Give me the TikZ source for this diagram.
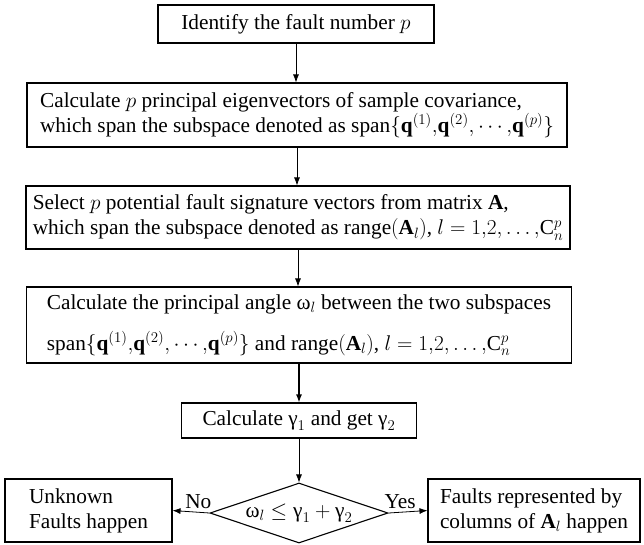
\documentclass[tikz,border=0pt]{standalone}
\usepackage{fix-cm}
\usepackage{amsmath,amssymb}
\usepackage{fontspec}
\setmainfont{Liberation Serif}
\usepackage{tikz}
\usetikzlibrary{arrows.meta,shapes.geometric}
\newcommand{\upgr}[1]{\textrm{#1}}
\tikzset{
  fltbox/.style={draw=black,line width=1.1pt,inner sep=0pt,align=left},
  fltdecision/.style={diamond,draw=black,line width=1.1pt,inner sep=0pt,aspect=2.97,
    minimum width=178pt,minimum height=60pt},
  fltarrow/.style={-{Latex[length=8pt,width=6pt]},line width=0.8pt},
  every picture/.style={font=\fontsize{21.3}{25}\selectfont}
}

\begin{document}
\begin{tikzpicture}[x=1pt,y=-1pt]
  \useasboundingbox (0,0) rectangle (644,544);
  \node[fltbox,minimum width=276pt,minimum height=38pt] (ident) at (296,24)
    {Identify the fault number $p$};
  \node[fltbox,minimum width=540pt,minimum height=64pt] (eigen) at (297,115)
    {Calculate $p$ principal eigenvectors of sample covariance,\\
     which span the subspace denoted as $\mathrm{span}\{\mathbf{q}^{(1)}{,}\mathbf{q}^{(2)}{,}\cdots{,}\mathbf{q}^{(p)}\}$};
  \node[fltbox,minimum width=544pt,minimum height=63pt] (select) at (298,217.5)
    {Select $p$ potential fault signature vectors from matrix $\mathbf{A}$,\\
     which span the subspace denoted as $\mathrm{range}(\mathbf{A}_l)$, $l=1{,}2{,}\ldots{,}\mathrm{C}_n^p$};
  \node[fltbox,minimum width=545pt,minimum height=76pt] (angle) at (299,325)
    {Calculate the principal angle $\upgr{ω}_l$ between the two subspaces\\[16pt]
     $\mathrm{span}\{\mathbf{q}^{(1)}{,}\mathbf{q}^{(2)}{,}\cdots{,}\mathbf{q}^{(p)}\}$ and $\mathrm{range}(\mathbf{A}_l)$, $l=1{,}2{,}\ldots{,}\mathrm{C}_n^p$};
  \node[fltbox,minimum width=235pt,minimum height=35pt] (gamma) at (299,420.5)
    {Calculate $\upgr{γ}_1$ and get $\upgr{γ}_2$};
  \node[fltdecision] (test) at (299,513) {$\upgr{ω}_l\le\upgr{γ}_1+\upgr{γ}_2$};
  \node[fltbox,minimum width=167pt,minimum height=63pt] (unknown) at (88.5,510.5)
    {Unknown\\Faults happen};
  \node[fltbox,minimum width=212pt,minimum height=63pt] (known) at (534,510.5)
    {Faults represented by\\columns of $\mathbf{A}_l$ happen};

  \draw[fltarrow] (ident) -- (ident |- eigen.north);
  \draw[fltarrow] (eigen) -- (eigen |- select.north);
  \draw[fltarrow] (select) -- (select |- angle.north);
  \draw[fltarrow,line width=1.3pt] (angle) -- (angle |- gamma.north);
  \draw[fltarrow] (gamma) -- (test.north);
  \draw[fltarrow] (test.west) -- node[above,pos=0.3] {No} (unknown.east);
  \draw[fltarrow] (test.east) -- node[above,pos=0.3] {Yes} (known.west);
\end{tikzpicture}
\end{document}
